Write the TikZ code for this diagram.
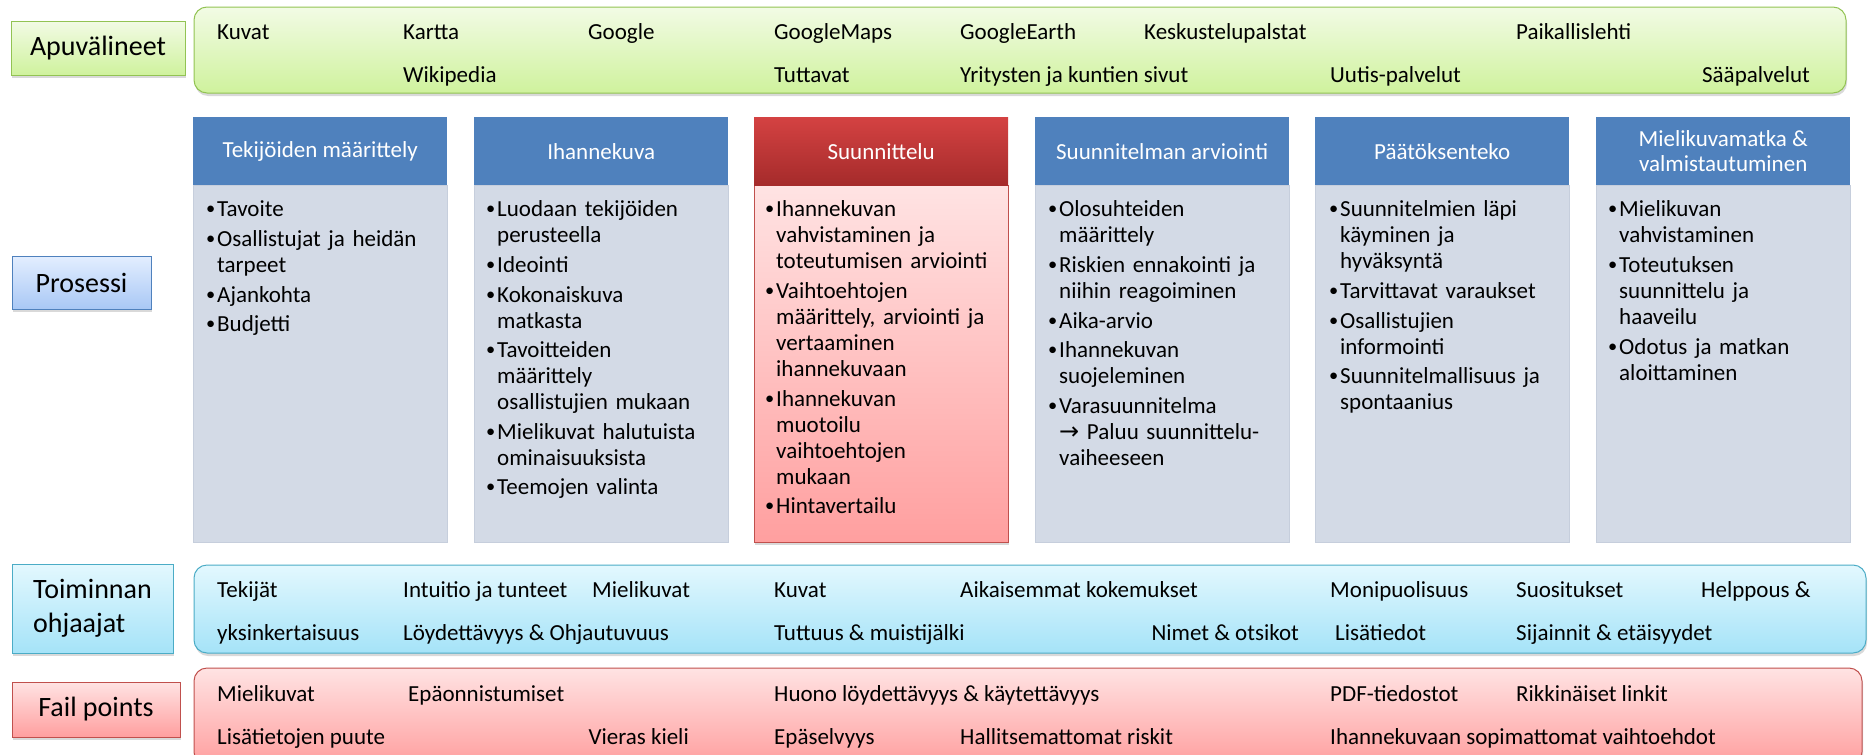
\documentclass[tikz,border=0pt]{standalone}
\usepackage{fontspec}
\setmainfont{Carlito}
\newfontfamily\arrowfont{DejaVu Sans}
\usetikzlibrary{shadows}
\definecolor{HeadClr}{HTML}{4F81BD}
\definecolor{BodyClr}{HTML}{D3DAE6}
\definecolor{BodyLine}{HTML}{C6CEDC}
\definecolor{GreenTop}{HTML}{F2FBE5}
\definecolor{GreenBot}{HTML}{CFF29D}
\definecolor{GreenLine}{HTML}{92C353}
\definecolor{CyanTop}{HTML}{E3F8FE}
\definecolor{CyanBot}{HTML}{A5E3F8}
\definecolor{CyanLine}{HTML}{4BACC6}
\definecolor{PinkTop}{HTML}{FFE3E3}
\definecolor{PinkBot}{HTML}{FF9F9F}
\definecolor{PinkLine}{HTML}{C0504D}
\definecolor{BlueTop}{HTML}{E3EEFF}
\definecolor{BlueBot}{HTML}{A9C8F5}
\definecolor{RedTop}{HTML}{D44242}
\definecolor{RedBot}{HTML}{A52B2B}

\newcommand\bul{\par\noindent\hangindent=11pt\hangafter=1\strut
  \makebox[11pt][l]{\raisebox{0.08em}{\scalebox{0.8}{\textbullet}}}}
\newcommand\nl{\newline}
\newcommand\toarrow{{\arrowfont\fontsize{24}{26}\selectfont →}}

\tikzset{
  shade/.style={drop shadow={shadow xshift=1pt,shadow yshift=-3pt,opacity=0.3}},
  rowlabel/.style={draw,line width=1pt,shade,inner sep=0pt,align=left,
    font=\fontsize{28}{34}\selectfont},
  band/.style={draw,line width=1pt,rounded corners=13pt,shade,inner sep=0pt},
  item/.style={anchor=base west,inner sep=0pt,font=\fontsize{23}{26}\selectfont},
  itemr/.style={item,anchor=base east},
  head/.style={anchor=north west,fill=HeadClr,text=white,minimum width=254pt,
    minimum height=68pt,inner sep=0pt,align=center,font=\fontsize{23}{25}\selectfont},
  body/.style={anchor=north west,fill=BodyClr,draw=BodyLine,line width=0.6pt,
    minimum width=254pt,minimum height=357pt,inner sep=0pt},
  bodytext/.style={anchor=north west,inner sep=0pt,text width=236pt,
    font=\fontsize{23}{26}\selectfont\raggedright\setlength{\parskip}{3.6pt}}
}

\begin{document}
\begin{tikzpicture}[x=1pt,y=-1pt]
\useasboundingbox (0,0) rectangle (1869,755);
\clip (0,0) rectangle (1869,755);

% row labels
\node[rowlabel,top color=GreenTop,bottom color=GreenBot,draw=GreenLine,
  minimum width=174pt,minimum height=54pt] (apu) at (98,48) {Apuvälineet};
\node[rowlabel,top color=BlueTop,bottom color=BlueBot,draw=HeadClr,
  minimum width=139pt,minimum height=53pt] (pros) at (81.5,282.5) {Prosessi};
\node[rowlabel,top color=CyanTop,bottom color=CyanBot,draw=CyanLine,
  minimum width=161pt,minimum height=89pt] (ohj) at (92.5,608.5) {Toiminnan\\ohjaajat};
\node[rowlabel,top color=PinkTop,bottom color=PinkBot,draw=PinkLine,
  minimum width=168pt,minimum height=55pt] (fail) at (96,709.5) {Fail points};

% bands
\node[band,top color=GreenTop,bottom color=GreenBot,draw=GreenLine,
  minimum width=1652pt,minimum height=86pt] (apuband) at (1020,50) {};
\node[band,top color=CyanTop,bottom color=CyanBot,draw=CyanLine,
  minimum width=1672pt,minimum height=88pt] (ohjband) at (1030,609) {};
\node[band,top color=PinkTop,bottom color=PinkBot,draw=PinkLine,
  minimum width=1668pt,minimum height=97pt] (failband) at (1028,716.5) {};

\foreach \x/\t [count=\i] in {217/Kuvat,403/Kartta,588/Google,774/GoogleMaps,
  960/GoogleEarth,1144/Keskustelupalstat,1516/Paikallislehti}
  \node[item] (apuA\i) at (\x,39) {\t};
\foreach \x/\t [count=\i] in {403/Wikipedia,774/Tuttavat,
  960/Yritysten ja kuntien sivut,1330/Uutis-palvelut}
  \node[item] (apuB\i) at (\x,82) {\t};
\node[itemr] (apuB5) at (1810,82) {Sääpalvelut};

\foreach \x/\t [count=\i] in {217/Tekijät,403/Intuitio ja tunteet,592/Mielikuvat,
  774/Kuvat,960/Aikaisemmat kokemukset,1330/Monipuolisuus,1516/Suositukset,
  1701/Helppous \&}
  \node[item] (ohjA\i) at (\x,597) {\t};
\foreach \x/\t [count=\i] in {217/yksinkertaisuus,403/Löydettävyys \& Ohjautuvuus,
  774/Tuttuus \& muistijälki,1335/Lisätiedot,1516/Sijainnit \& etäisyydet}
  \node[item] (ohjB\i) at (\x,640) {\t};
\node[itemr] (ohjB6) at (1299,640) {Nimet \& otsikot};

\foreach \x/\t [count=\i] in {217/Mielikuvat,408/Epäonnistumiset,
  774/Huono löydettävyys \& käytettävyys,1330/PDF-tiedostot,1516/Rikkinäiset linkit}
  \node[item] (failA\i) at (\x,701) {\t};
\foreach \x/\t [count=\i] in {217/Lisätietojen puute,774/Epäselvyys,
  960/Hallitsemattomat riskit,1330/Ihannekuvaan sopimattomat vaihtoehdot}
  \node[item] (failB\i) at (\x,744) {\t};
\node[itemr] (failB5) at (689,744) {Vieras kieli};

% process columns
\node[body] (b1) at (193,185) {};
\node[head] (h1) at (193,117) {Tekijöiden määrittely};
\node[bodytext] (t1) at (206,187) {\bul Tavoite
  \bul Osallistujat ja heidän\nl tarpeet
  \bul Ajankohta
  \bul Budjetti\par};

\node[body] (b2) at (474,185) {};
\node[head] (h2) at (474,117) {Ihannekuva};
\node[bodytext] (t2) at (486,187) {\bul Luodaan tekijöiden\nl perusteella
  \bul Ideointi
  \bul Kokonaiskuva\nl matkasta
  \bul Tavoitteiden\nl määrittely\nl osallistujien mukaan
  \bul Mielikuvat halutuista\nl ominaisuuksista
  \bul Teemojen valinta\par};

\node[body,top color=PinkTop,bottom color=PinkBot,draw=PinkLine,shade] (b3) at (754,185) {};
\node[head,top color=RedTop,bottom color=RedBot] (h3) at (754,117) {Suunnittelu};
\node[bodytext] (t3) at (765,187) {\bul Ihannekuvan\nl vahvistaminen ja\nl toteutumisen arviointi
  \bul Vaihtoehtojen\nl määrittely, arviointi ja\nl vertaaminen\nl ihannekuvaan
  \bul Ihannekuvan\nl muotoilu\nl vaihtoehtojen\nl mukaan
  \bul Hintavertailu\par};

\node[body] (b4) at (1035,185) {};
\node[head] (h4) at (1035,117) {Suunnitelman arviointi};
\node[bodytext] (t4) at (1048,187) {\bul Olosuhteiden\nl määrittely
  \bul Riskien ennakointi ja\nl niihin reagoiminen
  \bul Aika-arvio
  \bul Ihannekuvan\nl suojeleminen
  \bul Varasuunnitelma\nl \toarrow\ Paluu suunnittelu-\nl vaiheeseen\par};

\node[body] (b5) at (1315,185) {};
\node[head] (h5) at (1315,117) {Päätöksenteko};
\node[bodytext] (t5) at (1329,187) {\bul Suunnitelmien läpi\nl käyminen ja\nl hyväksyntä
  \bul Tarvittavat varaukset
  \bul Osallistujien\nl informointi
  \bul Suunnitelmallisuus ja\nl spontaanius\par};

\node[body] (b6) at (1596,185) {};
\node[head] (h6) at (1596,117) {Mielikuvamatka \&\\valmistautuminen};
\node[bodytext] (t6) at (1608,187) {\bul Mielikuvan\nl vahvistaminen
  \bul Toteutuksen\nl suunnittelu ja\nl haaveilu
  \bul Odotus ja matkan\nl aloittaminen\par};

\end{tikzpicture}
\end{document}
